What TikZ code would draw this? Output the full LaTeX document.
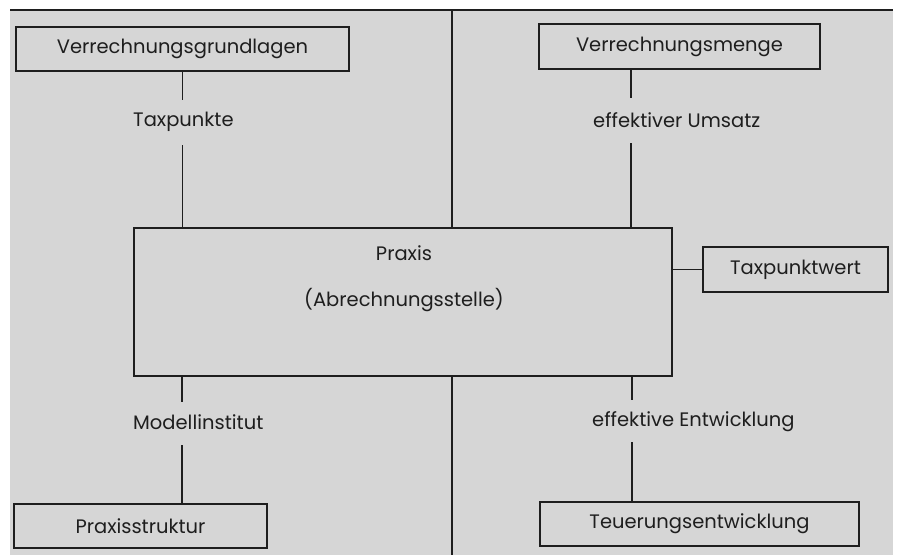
\documentclass[tikz,border=0pt]{standalone}
\usepackage{fontspec}
\setmainfont{Poppins}
\definecolor{bggray}{HTML}{D6D6D6}
\definecolor{ink}{HTML}{1E1E1E}
\begin{document}
\begin{tikzpicture}[x=1pt,y=-1pt,
  box/.style={draw=ink,line width=1.3pt,inner sep=0pt,font=\fontsize{19.5}{22}\selectfont,text=ink},
  lbl/.style={inner sep=0pt,anchor=west,font=\fontsize{19.5}{22}\selectfont,text=ink},
  txt/.style={inner sep=0pt,font=\fontsize{19.5}{22}\selectfont,text=ink},
  con/.style={draw=ink,line width=1.3pt}]
\useasboundingbox (0,0) rectangle (898,555);
\fill[white] (0,0) rectangle (898,555);
\fill[bggray] (10,10) rectangle (893,555);
\coordinate (tl) at (10,10);
\coordinate (tr) at (893,10);
\draw[con,line width=1.8pt] (tl) -- (tr);
% boxes
\node[box,minimum width=333pt,minimum height=44pt] (vg) at (182.5,49) {Verrechnungsgrundlagen};
\node[box,minimum width=281pt,minimum height=45pt] (vm) at (679.5,46.5) {Verrechnungsmenge};
\node[box,minimum width=538pt,minimum height=148pt] (px) at (403,302) {};
\node[txt] (pxa) at (404,253) {Praxis};
\node[txt] (pxb) at (404,300) {(Abrechnungsstelle)};
\node[box,minimum width=185pt,minimum height=45pt] (tw) at (795.5,269.5) {Taxpunktwert};
\node[box,minimum width=253pt,minimum height=44pt] (ps) at (140.5,526) {Praxisstruktur};
\node[box,minimum width=319pt,minimum height=44pt] (te) at (699.5,524) {Teuerungsentwicklung};
% labels
\node[lbl] (l1) at (133,122) {Taxpunkte};
\node[lbl] (l2) at (593,120) {effektiver Umsatz};
\node[lbl] (l3) at (133,422) {Modellinstitut};
\node[lbl] (l4) at (592,422) {effektive Entwicklung};
% gap coordinates
\coordinate (a1) at (182.5,100);
\coordinate (a2) at (182.5,145);
\coordinate (b1) at (631,98);
\coordinate (b2) at (631,143);
\coordinate (c1) at (182,402);
\coordinate (c2) at (182,445);
\coordinate (d1) at (632,400);
\coordinate (d2) at (632,442);
\coordinate (m1) at (452,10);
\coordinate (m2) at (452,555);
% connectors
\draw[con] (vg.south) -- (a1);
\draw[con] (a2) -- (a2 |- px.north);
\draw[con] (b1 |- vm.south) -- (b1);
\draw[con] (b2) -- (b2 |- px.north);
\draw[con] (c1 |- px.south) -- (c1);
\draw[con] (c2) -- (c2 |- ps.north);
\draw[con] (d1 |- px.south) -- (d1);
\draw[con] (d2) -- (d2 |- te.north);
\draw[con] (m1) -- (m1 |- px.north);
\draw[con] (m2 |- px.south) -- (m2);
\draw[con] (px.east |- tw.west) -- (tw.west);
\end{tikzpicture}
\end{document}
